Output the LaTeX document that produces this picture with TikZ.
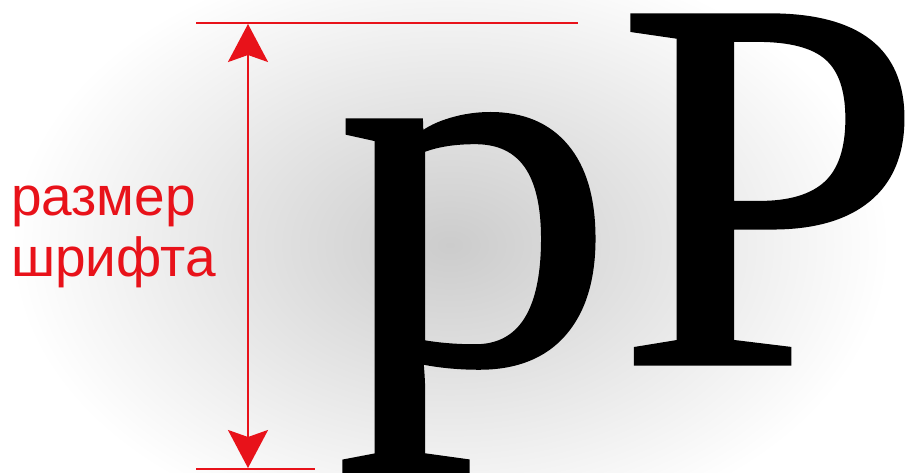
\documentclass[tikz,border=0pt]{standalone}
\usepackage{fontspec}
\setmainfont{Liberation Serif}
\newfontfamily\heavyserif[FakeBold=1.0]{Liberation Serif}
\newfontfamily\lsans{Liberation Sans}
\usetikzlibrary{arrows.meta}
\definecolor{dimred}{RGB}{232,18,26}
\tikzset{
  dimline/.style={draw=dimred, line width=2.2pt},
  dimarrow/.style={draw=dimred, line width=2.2pt, {Stealth[length=38pt,width=40pt,inset=7pt,fill=dimred]}-{Stealth[length=38pt,width=40pt,inset=7pt,fill=dimred]}},
  glyph/.style={anchor=base west, inner sep=0pt, text=black},
  dimlabel/.style={anchor=north west, inner sep=0pt, align=left, text=dimred, font=\lsans\fontsize{55}{61}\selectfont}
}
\begin{document}
\begin{tikzpicture}[x=1pt,y=-1pt]
\useasboundingbox (0,0) rectangle (910,472);
\fill[white] (0,0) rectangle (910,472);
\begin{scope}
\clip (0,0) rectangle (910,472);
\shade[inner color=black!20, outer color=white] (450,245) ellipse [x radius=440, y radius=300];
\end{scope}
% letters
\node[glyph, xscale=1.06, font=\heavyserif\fontsize{525}{525}\selectfont] (p) at (336,362) {p};
\node[glyph, xscale=1.04, font=\heavyserif\fontsize{530}{530}\selectfont] (P) at (617,363) {P};
% dimension lines
\coordinate (tl) at (196,23);
\coordinate (tr) at (578,23);
\coordinate (bl) at (196,469);
\coordinate (br) at (315,469);
\coordinate (atop) at (248,24);
\coordinate (abot) at (248,468);
\draw[dimline] (tl) -- (tr);
\draw[dimline] (bl) -- (br);
\draw[dimarrow] (atop) -- (abot);
\node[dimlabel] (lbl) at (11,186) {размер\\шрифта};
\end{tikzpicture}
\end{document}
